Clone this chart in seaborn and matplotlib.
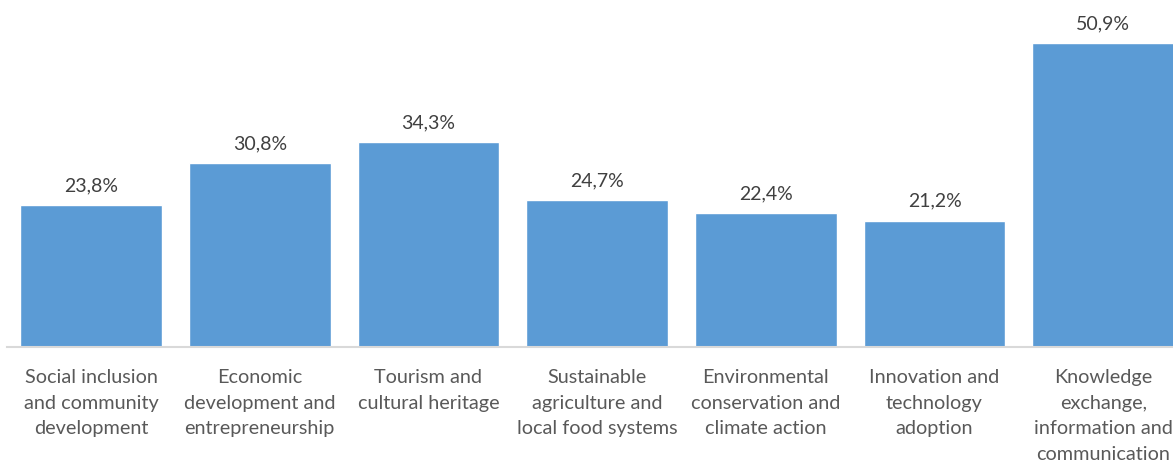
import matplotlib
matplotlib.use("Agg")
import matplotlib.pyplot as plt
import seaborn as sns
import pandas as pd

categories = [
    "Social inclusion\nand community\ndevelopment",
    "Economic\ndevelopment and\nentrepreneurship",
    "Tourism and\ncultural heritage",
    "Sustainable\nagriculture and\nlocal food systems",
    "Environmental\nconservation and\nclimate action",
    "Innovation and\ntechnology\nadoption",
    "Knowledge\nexchange,\ninformation and\ncommunication",
]
values = [23.8, 30.8, 34.3, 24.7, 22.4, 21.2, 50.9]
value_labels = ["23,8%", "30,8%", "34,3%", "24,7%", "22,4%", "21,2%", "50,9%"]

sns.set_style("white")
plt.rcParams["font.family"] = ["Lato", "DejaVu Sans"]

df = pd.DataFrame({"category": categories, "value": values})

W, H = 1173, 464
fig = plt.figure(figsize=(W / 100, H / 100), dpi=100)
# plot area runs slightly past the right edge of the canvas
left_px, right_px = 6.7, 1187.6
bottom_px, top_px = 348, 20
ax = fig.add_axes([left_px / W, (H - bottom_px) / H,
                   (right_px - left_px) / W, (bottom_px - top_px) / H])

sns.barplot(data=df, x="category", y="value", color="#5B9BD5",
            saturation=1, width=0.84, ax=ax)

ax.set_xlim(-0.5, len(categories) - 0.5)
ax.set_ylim(0, 55)
ax.set_xlabel("")
ax.set_ylabel("")
ax.set_yticks([])
for s in ["top", "left", "right"]:
    ax.spines[s].set_visible(False)
ax.spines["bottom"].set_color("#D9D9D9")
ax.spines["bottom"].set_linewidth(1.5)

ax.tick_params(axis="x", length=0, pad=15, labelsize=14.3, colors="#595959")
for lbl in ax.get_xticklabels():
    lbl.set_linespacing(1.62)
    lbl.set_verticalalignment("top")

for i, (v, t) in enumerate(zip(values, value_labels)):
    ax.annotate(t, (i, v), xytext=(0, 8.5), textcoords="offset points",
                ha="center", va="bottom", fontsize=14, color="#404040")

fig.savefig("out.png", dpi=100)
